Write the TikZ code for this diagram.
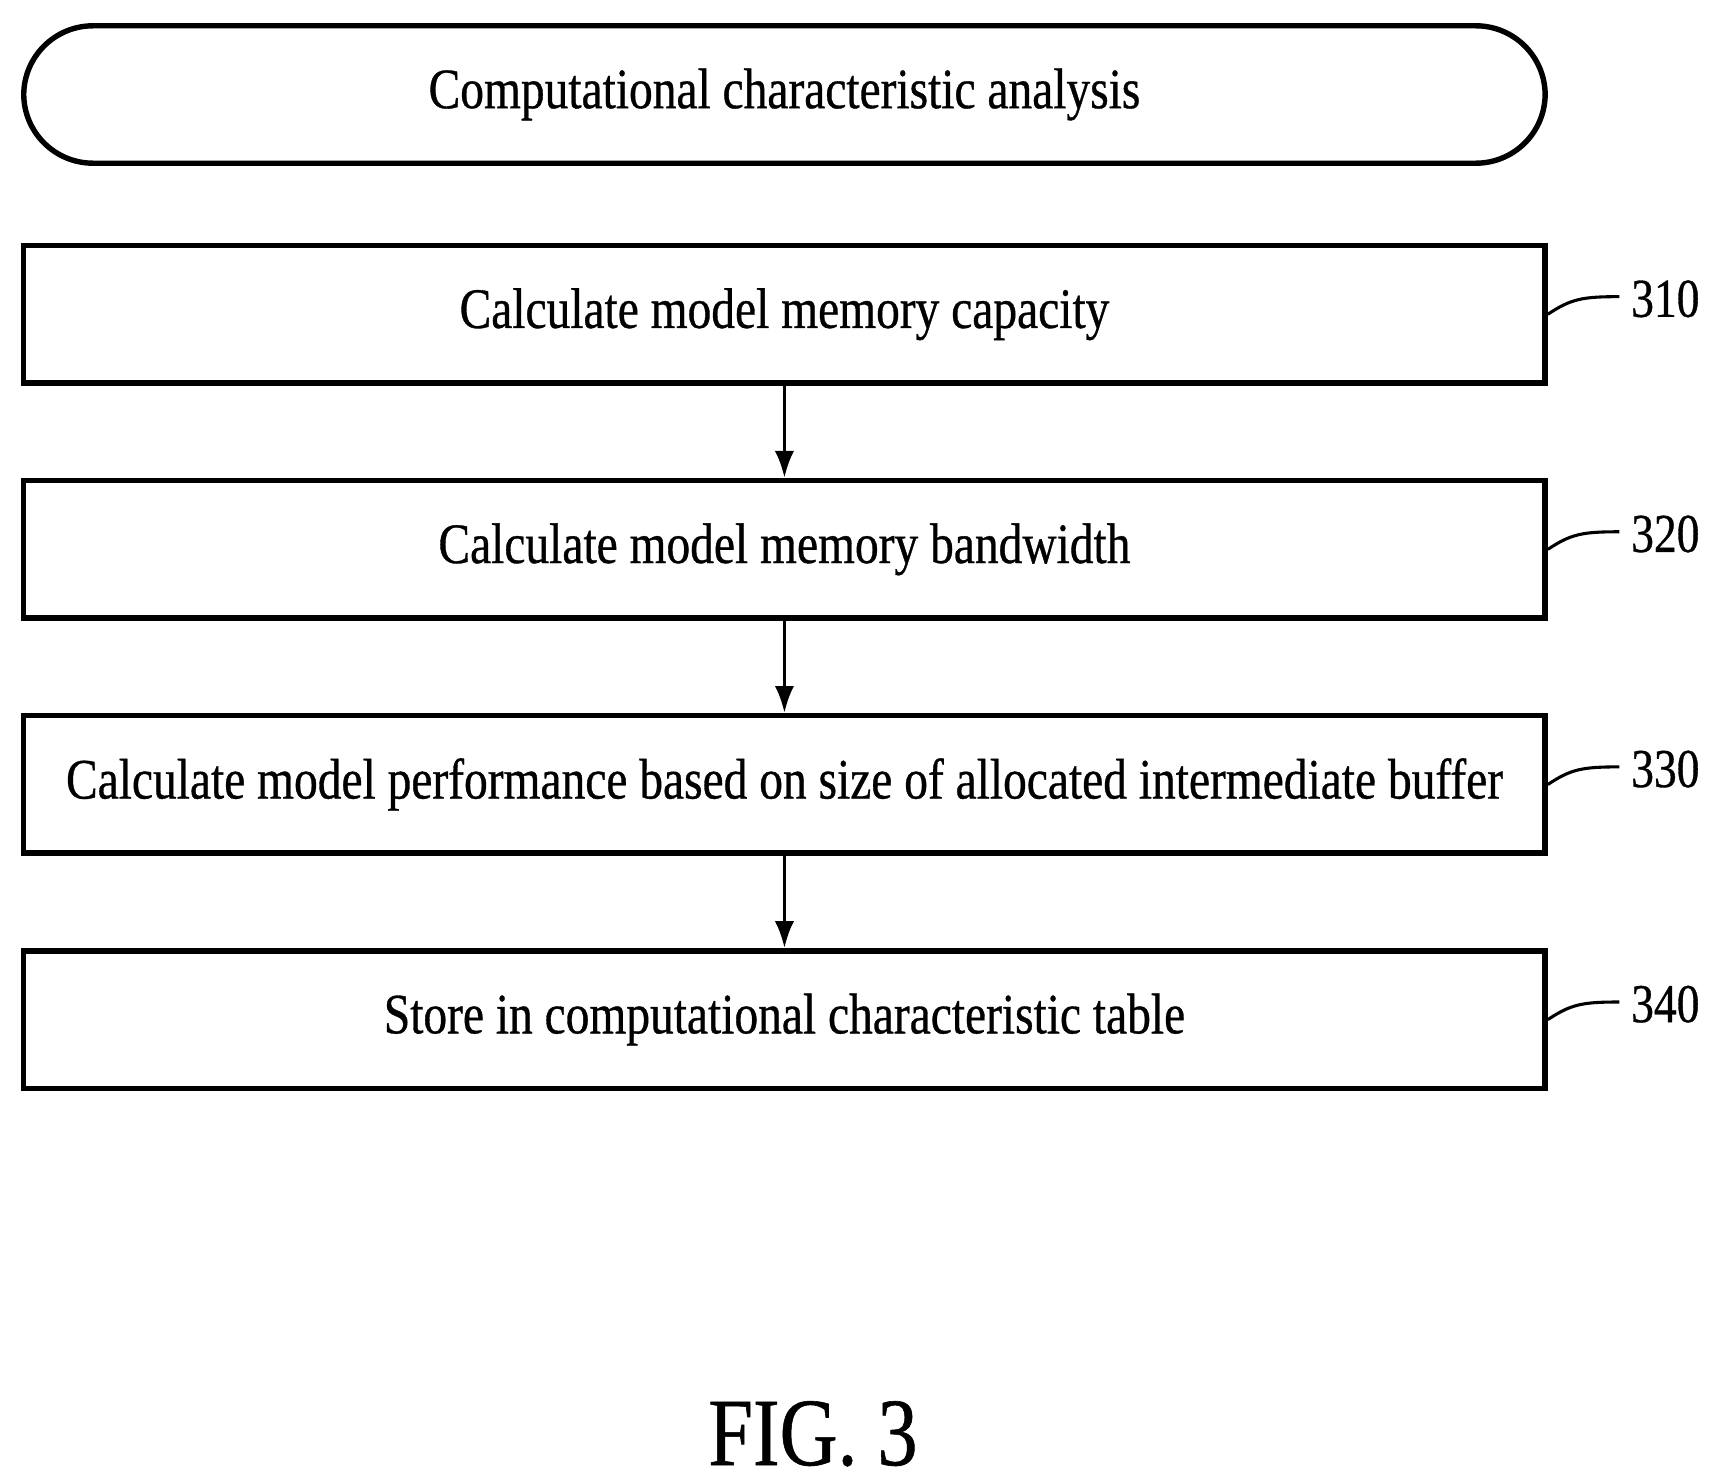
\documentclass[tikz,border=0pt]{standalone}
\usepackage{fontspec}
\setmainfont{Liberation Serif}[FakeStretch=0.83,FakeBold=0.6]
\begin{document}
\begin{tikzpicture}[x=0.01cm,y=-0.01cm,
  box/.style={draw,line width=1.4pt,minimum width=13.84cm,minimum height=1.25cm,inner sep=0pt,font=\fontsize{14.8}{17}\selectfont},
  arr/.style={-{Latex[length=7pt,width=5pt]},line width=0.9pt},
  lead/.style={line width=0.8pt},
  num/.style={font=\fontsize{14.2}{16}\selectfont,anchor=west,inner sep=0pt}]
\useasboundingbox (0,0) rectangle (1561,1350);
\usetikzlibrary{arrows.meta}
\node[box,rounded corners=0.63cm] (t) at (714,86) {Computational characteristic analysis};
\node[box] (a) at (714,286) {Calculate model memory capacity};
\node[box] (b) at (714,500) {Calculate model memory bandwidth};
\node[box] (c) at (714,714) {Calculate model performance based on size of allocated intermediate buffer};
\node[box] (d) at (714,928) {Store in computational characteristic table};
\draw[arr] (a.south) -- (b.north);
\draw[arr] (b.south) -- (c.north);
\draw[arr] (c.south) -- (d.north);
\foreach \n/\y/\l in {a/286/310,b/500/320,c/714/330,d/928/340}{
  \node[num] (l\l) at (1484,\y-14) {\l};
  \coordinate (e\l) at (1474,\y-16);
  \draw[lead] (\n.east) .. controls (1430,\y-14) and (1440,\y-16) .. (e\l);
}
\node[font=\fontsize{25}{28}\selectfont] (fig) at (740,1305) {FIG. 3};
\end{tikzpicture}
\end{document}
